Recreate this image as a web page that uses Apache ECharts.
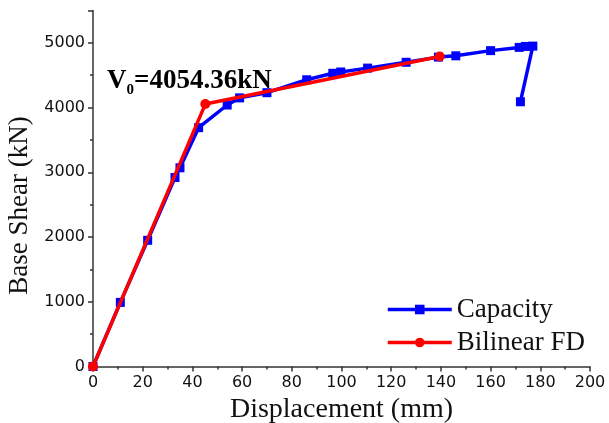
<!DOCTYPE html>
<html>
<head>
<meta charset="utf-8">
<script src="https://cdn.jsdelivr.net/npm/echarts@6/dist/echarts.min.js"></script>
<style>
  html, body { margin: 0; padding: 0; background: #fff; }
  #chart { width: 609px; height: 423px; }
</style>
</head>
<body>
<div id="chart"></div>
<script>
// Pushover capacity curve (displacement in mm, base shear in kN)
const capacityDisp = [0, 11, 22, 33, 35, 42.5, 54, 59, 70, 86, 96.5, 99.7, 110.5, 126, 139, 146, 160, 171.5, 174, 177, 172];
const capacityShear = [0, 990, 1950, 2920, 3070, 3690, 4040, 4150, 4230, 4430, 4530, 4550, 4610, 4700, 4780, 4800, 4880, 4930, 4945, 4950, 4090];

// Bilinear idealisation (FEMA / force-displacement)
const bilinearDisp = [0, 45.2, 139.5];
const bilinearShear = [0, 4054.36, 4790];

const yieldShearLabel = '4054.36kN';

const serif = '"Liberation Serif", "Times New Roman", serif';
const sans = '"DejaVu Sans", Arial, sans-serif';

const chart = echarts.init(document.getElementById('chart'), null, { renderer: 'canvas' });

const axisCommon = {
  axisLine: { show: true, lineStyle: { color: '#333', width: 1.5 } },
  axisTick: { show: true, inside: false, length: 5, lineStyle: { color: '#333', width: 1.5 } },
  minorTick: { show: true, splitNumber: 2, length: 3, lineStyle: { color: '#333', width: 1.5 } },
  splitLine: { show: false },
  axisLabel: { color: '#111', fontFamily: sans, fontSize: 16 },
  nameLocation: 'middle'
};

chart.setOption({
  animation: false,
  backgroundColor: '#fff',
  grid: { left: 93, right: 19, top: 10.5, bottom: 56.5, containLabel: false, outerBoundsMode: 'none' },
  xAxis: Object.assign({}, axisCommon, {
    type: 'value',
    min: 0, max: 200, interval: 20,
    name: 'Displacement (mm)',
    nameGap: 29,
    nameTextStyle: { color: '#111', fontFamily: serif, fontSize: 28 },
    axisLabel: Object.assign({}, axisCommon.axisLabel, { margin: 8 })
  }),
  yAxis: Object.assign({}, axisCommon, {
    type: 'value',
    min: 0, max: 5500, interval: 1000,
    name: 'Base Shear (kN)',
    nameGap: 59,
    nameTextStyle: { color: '#111', fontFamily: serif, fontSize: 27, padding: [0, 34, 0, 0] },
    axisLabel: Object.assign({}, axisCommon.axisLabel, {
      margin: 8,
      formatter: v => (v % 1000 === 0 ? String(v) : '')
    })
  }),
  legend: {
    orient: 'vertical',
    left: 386,
    top: 296,
    padding: 0,
    itemWidth: 64,
    itemHeight: 12,
    itemGap: 6,
    lineStyle: { width: 3.5 },
    textStyle: { fontFamily: serif, fontSize: 27, color: '#111' },
    data: ['Capacity', 'Bilinear FD']
  },
  graphic: [{
    type: 'text',
    left: 107,
    top: 60,
    style: {
      rich: {
        v: { fontFamily: serif, fontWeight: 'bold', fontSize: 27, lineHeight: 30, verticalAlign: 'top', fill: '#000' },
        s: { fontFamily: serif, fontWeight: 'bold', fontSize: 15, lineHeight: 15, padding: [23, 0, 0, 0], verticalAlign: 'bottom', fill: '#000' }
      },
      text: '{v|V}{s|0}{v|=' + yieldShearLabel + '}'
    }
  }],
  series: [
    {
      name: 'Capacity',
      type: 'line',
      data: capacityDisp.map((d, i) => [d, capacityShear[i]]),
      symbol: 'rect',
      symbolSize: 9,
      showAllSymbol: true,
      lineStyle: { color: '#0000ff', width: 3.5 },
      itemStyle: { color: '#0000ff' },
      z: 2
    },
    {
      name: 'Bilinear FD',
      type: 'line',
      data: bilinearDisp.map((d, i) => [d, bilinearShear[i]]),
      symbol: 'circle',
      symbolSize: 10,
      showAllSymbol: true,
      lineStyle: { color: '#ff0000', width: 3.5 },
      itemStyle: { color: '#ff0000' },
      z: 3
    }
  ]
});
</script>
</body>
</html>
